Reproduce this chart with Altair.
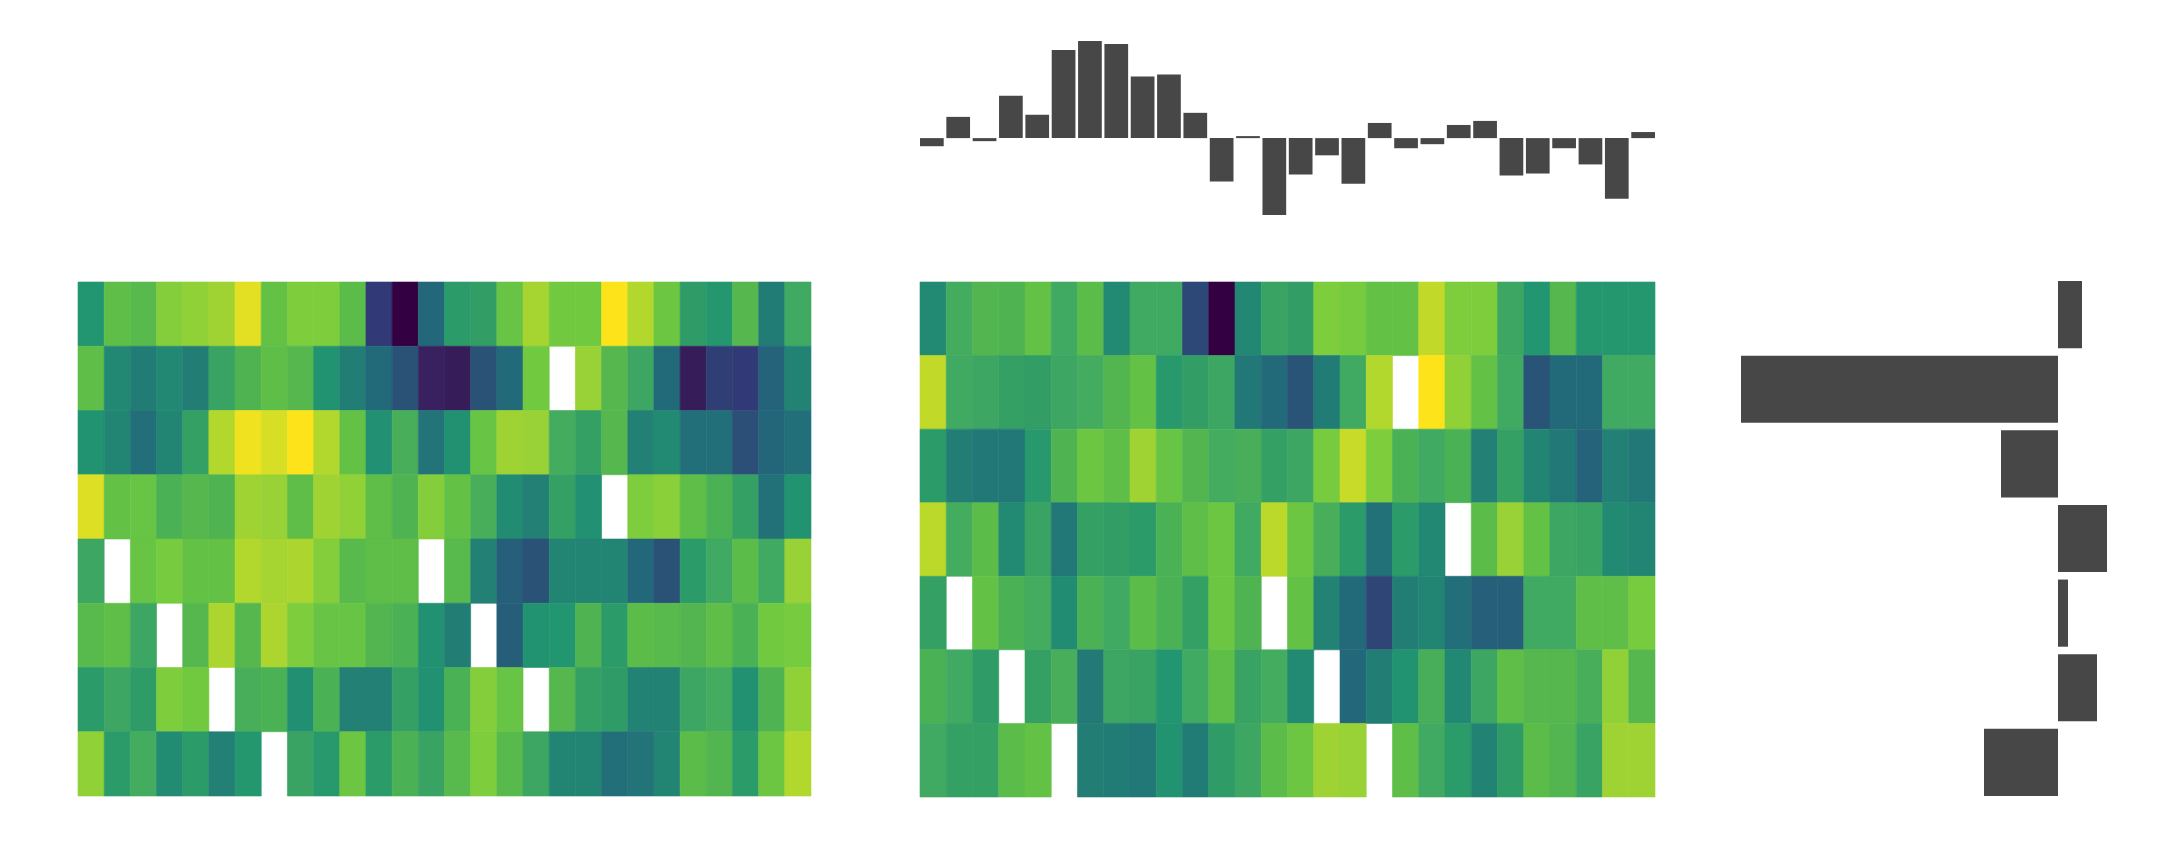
import altair as alt
import pandas as pd

# ---- data ----
cols = list(range(28))

heat1_rows = [
    [0.57,0.75,0.73,0.82,0.84,0.86,0.96,0.76,0.81,0.81,0.74,0.18,0.00,0.37,0.60,0.62,0.77,0.87,0.79,0.79,1.00,0.89,0.78,0.61,0.58,0.72,0.45,0.66],
    [0.75,0.50,0.45,0.50,0.46,0.64,0.70,0.75,0.72,0.56,0.46,0.38,0.27,0.07,0.06,0.27,0.38,0.79,None,0.85,0.72,0.65,0.38,0.06,0.20,0.18,0.35,0.48],
    [0.56,0.49,0.40,0.49,0.63,0.89,0.98,0.94,1.00,0.89,0.76,0.54,0.68,0.42,0.55,0.77,0.86,0.85,0.67,0.63,0.72,0.47,0.51,0.40,0.40,0.26,0.36,0.40],
    [0.95,0.76,0.77,0.69,0.72,0.70,0.86,0.85,0.75,0.86,0.84,0.75,0.70,0.82,0.76,0.68,0.52,0.47,0.63,0.54,None,0.81,0.83,0.75,0.69,0.63,0.41,0.56],
    [0.65,None,0.77,0.80,0.76,0.76,0.89,0.87,0.88,0.82,0.73,0.75,0.75,None,0.73,0.47,0.33,0.27,0.49,0.49,0.49,0.37,0.27,0.60,0.66,0.74,0.66,0.85],
    [0.73,0.75,0.65,None,0.72,0.88,0.72,0.88,0.81,0.77,0.77,0.71,0.69,0.55,0.46,None,0.32,0.56,0.57,0.70,0.60,0.74,0.73,0.71,0.75,0.69,0.79,0.80],
    [0.60,0.65,0.61,0.81,0.79,None,0.68,0.69,0.53,0.69,0.47,0.47,0.63,0.55,0.69,0.82,0.77,None,0.72,0.63,0.61,0.48,0.48,0.65,0.67,0.55,0.70,0.84],
    [0.84,0.60,0.67,0.52,0.60,0.47,0.58,None,0.64,0.59,0.78,0.60,0.69,0.64,0.73,0.81,0.73,0.65,0.49,0.49,0.40,0.42,0.49,0.74,0.71,0.60,0.78,0.89],
]

heat2_rows = [
    [0.51,0.67,0.71,0.70,0.76,0.66,0.74,0.51,0.66,0.66,0.23,0.00,0.50,0.64,0.62,0.81,0.80,0.76,0.76,0.91,0.81,0.81,0.65,0.57,0.72,0.58,0.58,0.58],
    [0.91,0.66,0.65,0.63,0.62,0.65,0.67,0.71,0.76,0.59,0.62,0.65,0.43,0.38,0.28,0.45,0.66,0.89,None,1.00,0.84,0.76,0.66,0.28,0.38,0.38,0.66,0.66],
    [0.60,0.46,0.43,0.43,0.59,0.70,0.78,0.75,0.86,0.77,0.71,0.67,0.68,0.63,0.65,0.80,0.92,0.81,0.69,0.66,0.69,0.47,0.63,0.49,0.43,0.35,0.47,0.43],
    [0.90,0.67,0.74,0.51,0.64,0.43,0.63,0.62,0.60,0.69,0.75,0.78,0.66,0.90,0.78,0.68,0.60,0.41,0.60,0.50,None,0.74,0.85,0.76,0.65,0.64,0.51,0.49],
    [0.63,None,0.76,0.69,0.67,0.52,0.69,0.66,0.74,0.69,0.63,0.78,0.70,None,0.76,0.48,0.38,0.22,0.46,0.49,0.40,0.33,0.33,0.66,0.66,0.75,0.75,0.80],
    [0.69,0.66,0.61,None,0.63,0.68,0.44,0.65,0.64,0.57,0.66,0.75,0.64,0.67,0.51,None,0.37,0.46,0.56,0.68,0.50,0.65,0.75,0.72,0.72,0.68,0.84,0.72],
    [0.66,0.63,0.63,0.74,0.76,None,0.46,0.45,0.43,0.56,0.45,0.61,0.65,0.74,0.78,0.86,0.85,None,0.75,0.66,0.60,0.48,0.61,0.74,0.71,0.64,0.86,0.86],
]

top_bars = [-0.24,0.63,-0.09,1.26,0.69,2.61,2.88,2.79,1.83,1.89,0.75,-1.29,0.06,-2.28,
            -1.08,-0.51,-1.35,0.45,-0.30,-0.18,0.39,0.51,-1.11,-1.05,-0.30,-0.78,-1.80,0.18]

right_bars = [0.24,-3.17,-0.57,0.49,0.10,0.39,-0.74]

# viridis-like colour ramp as it appears in the reference
ramp_stops = [0.00, 0.07, 0.18, 0.27, 0.38, 0.46, 0.51, 0.57, 0.63, 0.66, 0.70, 0.75, 0.80, 0.85, 0.90, 0.95, 1.00]
ramp_colors = ["#330042", "#38215e", "#313a76", "#2a5277", "#226a7a", "#227e75", "#228a72", "#229571",
               "#35a063", "#40a962", "#4fb351", "#5ebe48", "#76cc3e", "#98d236", "#bad92b", "#dddf25", "#fde41a"]

BAR_COLOR = "#474747"


def heatmap(rows, w, h):
    recs = [{"row": i, "col": j, "v": v}
            for i, r in enumerate(rows) for j, v in enumerate(r) if v is not None]
    df = pd.DataFrame(recs)
    cscale = alt.Scale(domain=ramp_stops, range=ramp_colors, interpolate="rgb")
    return alt.Chart(df).mark_rect(strokeWidth=0.6).encode(
        x=alt.X("col:O", scale=alt.Scale(domain=cols, paddingInner=0, paddingOuter=0), axis=None),
        y=alt.Y("row:O", scale=alt.Scale(domain=list(range(len(rows))), paddingInner=0, paddingOuter=0), axis=None),
        color=alt.Color("v:Q", scale=cscale, legend=None),
        stroke=alt.Stroke("v:Q", scale=cscale, legend=None),
    ).properties(width=w, height=h)


def blank(w, h):
    return alt.Chart(pd.DataFrame({"a": [0]})).mark_point(opacity=0).encode(
        x=alt.X("a:Q", axis=None), y=alt.Y("a:Q", axis=None)
    ).properties(width=w, height=h)


top_df = pd.DataFrame({"col": cols, "v": top_bars})
top = alt.Chart(top_df).mark_bar(color=BAR_COLOR).encode(
    x=alt.X("col:O", scale=alt.Scale(domain=cols, paddingInner=0.1, paddingOuter=0), axis=None),
    y=alt.Y("v:Q", scale=alt.Scale(domain=[min(top_bars), max(top_bars)], nice=False), axis=None),
).properties(width=735, height=174)

right_df = pd.DataFrame({"row": list(range(len(right_bars))), "v": right_bars})
right = alt.Chart(right_df).mark_bar(color=BAR_COLOR).encode(
    y=alt.Y("row:O", scale=alt.Scale(domain=list(range(len(right_bars))), paddingInner=0.1, paddingOuter=0), axis=None),
    x=alt.X("v:Q", scale=alt.Scale(domain=[min(right_bars), max(right_bars)], nice=False), axis=None),
).properties(width=366, height=515)

left_col = alt.vconcat(blank(733, 174), heatmap(heat1_rows, 733, 514), spacing=66)
mid_col = alt.vconcat(top, heatmap(heat2_rows, 735, 515), spacing=66)
right_col = alt.vconcat(blank(366, 174), right, spacing=66)

chart = alt.hconcat(
    left_col,
    alt.hconcat(mid_col, right_col, spacing=85),
    spacing=107,
).properties(
    padding={"left": 69, "top": 33, "right": 5, "bottom": 5}
).configure_view(stroke=None)

chart.save("out.html", embed_options={"renderer": "svg", "actions": False})
